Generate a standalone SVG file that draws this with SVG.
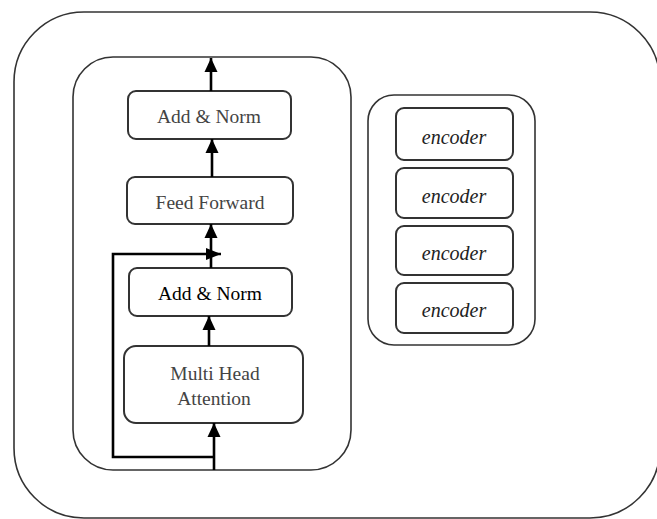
<svg xmlns="http://www.w3.org/2000/svg" width="657" height="519" viewBox="0 0 657 519">
  <defs>
    <marker id="ah" markerUnits="userSpaceOnUse" markerWidth="14" markerHeight="14" viewBox="0 0 14 13" refX="14" refY="6.5" orient="auto">
      <path d="M0,0 L14,6.5 L0,13 z" fill="#000"/>
    </marker>
    <marker id="ahs" markerUnits="userSpaceOnUse" markerWidth="15" markerHeight="12" viewBox="0 0 15 12" refX="15" refY="6" orient="auto">
      <path d="M0,0 L15,6 L0,12 z" fill="#000"/>
    </marker>
  </defs>
  <style>
    .frame { fill: none; stroke: #333; stroke-width: 1.6; }
    .box { fill: #fff; stroke: #333; stroke-width: 2; }
    .lbl { font-family: "Liberation Serif", "Times New Roman", serif; font-size: 19.5px; text-anchor: middle; fill: #444; }
    .dark { fill: #000; }
    .enc { font-family: "Liberation Serif", "Times New Roman", serif; font-size: 20px; font-style: italic; text-anchor: middle; fill: #222; }
    .conn { fill: none; stroke: #000; stroke-width: 2.6; }
  </style>
  <rect width="657" height="519" fill="#fff"/>

  <g id="outer">
    <rect class="frame" x="14" y="12" width="646" height="506" rx="70" ry="70"/>
  </g>

  <g id="encoder-block">
    <rect class="frame" x="73" y="57" width="278" height="413" rx="40" ry="40"/>
  </g>

  <g id="add-norm-top">
    <rect class="box" x="128" y="91" width="163" height="48" rx="8"/>
    <text class="lbl" x="209" y="123">Add &amp; Norm</text>
  </g>

  <g id="feed-forward">
    <rect class="box" x="127" y="177" width="166" height="47" rx="8"/>
    <text class="lbl" x="210" y="209">Feed Forward</text>
  </g>

  <g id="add-norm-bottom">
    <rect class="box" x="129" y="268" width="163" height="48" rx="8"/>
    <text class="lbl dark" x="210" y="300">Add &amp; Norm</text>
  </g>

  <g id="multi-head-attention">
    <rect class="box" x="124" y="346" width="179" height="77" rx="12"/>
    <text class="lbl" x="215" y="380">Multi Head</text>
    <text class="lbl" x="214" y="405">Attention</text>
  </g>

  <g id="encoder-stack">
    <rect class="frame" x="368" y="95" width="167" height="250" rx="26" ry="26"/>
  </g>
  <g id="encoder-1">
    <rect class="box" x="396" y="108" width="117" height="52" rx="8"/>
    <text class="enc" x="454" y="144">encoder</text>
  </g>
  <g id="encoder-2">
    <rect class="box" x="396" y="168" width="117" height="50" rx="8"/>
    <text class="enc" x="454" y="203">encoder</text>
  </g>
  <g id="encoder-3">
    <rect class="box" x="396" y="226" width="117" height="49" rx="8"/>
    <text class="enc" x="454" y="260">encoder</text>
  </g>
  <g id="encoder-4">
    <rect class="box" x="396" y="283" width="117" height="50" rx="8"/>
    <text class="enc" x="454" y="317">encoder</text>
  </g>

  <g id="connectors">
    <line class="conn" x1="211" y1="91" x2="211" y2="58" marker-end="url(#ah)"/>
    <line class="conn" x1="212" y1="177" x2="212" y2="139" marker-end="url(#ah)"/>
    <line class="conn" x1="211" y1="268" x2="211" y2="224" marker-end="url(#ah)"/>
    <line class="conn" x1="209" y1="346" x2="209" y2="316" marker-end="url(#ah)"/>
    <line class="conn" x1="214" y1="470" x2="214" y2="423" marker-end="url(#ah)"/>
    <path class="conn" d="M214,457 H113 V254 H221" marker-end="url(#ahs)"/>
  </g>
</svg>
